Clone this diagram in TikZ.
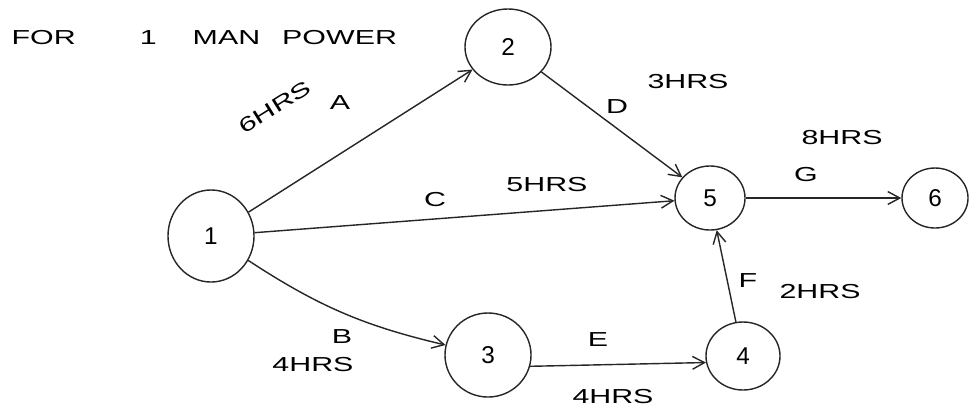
\documentclass[tikz,border=0pt]{standalone}
\usepackage{fontspec}
\setmainfont{Liberation Sans}
\newfontfamily\handfont[FakeStretch=1.5]{Liberation Sans}
\usepackage{tikz}
\usetikzlibrary{shapes.geometric, arrows.meta, positioning}

\begin{document}
\begin{tikzpicture}[x=0.025cm, y=-0.025cm]
    % Define styles
    \tikzstyle{event} = [ellipse, draw=black!85, line width=1pt, inner sep=0pt, font=\LARGE]
    \tikzstyle{activity} = [font=\handfont\Large, inner sep=1pt]
    \tikzstyle{arrow} = [-{Straight Barb[length=3mm, width=3.2mm]}, line width=1pt, draw=black!85]

    \useasboundingbox (0,0) rectangle (970,410);

    % Title
    \node[activity, anchor=west] (title) at (10,38) {FOR\hspace{1.6cm}1\hspace{0.9cm}MAN\hspace{0.55cm}POWER};

    % Events
    \node[event, minimum width=2.15cm, minimum height=2.3cm] (n1) at (211,236) {1};
    \node[event, minimum width=2.15cm, minimum height=1.9cm] (n2) at (508,47) {2};
    \node[event, minimum width=2.15cm, minimum height=2.1cm] (n3) at (488,355) {3};
    \node[event, minimum width=1.85cm, minimum height=1.7cm] (n4) at (743,356) {4};
    \node[event, minimum width=1.75cm, minimum height=1.6cm] (n5) at (710,198) {5};
    \node[event, minimum width=1.65cm, minimum height=1.5cm] (n6) at (935,198) {6};

    % Activities
    \draw[arrow] (n1) -- (n2);
    \draw[arrow] (n1) to[bend right=10] (n3);
    \draw[arrow] (n1) -- (n5);
    \draw[arrow] (n2) -- (n5);
    \draw[arrow] (n3.345) -- (n4.190);
    \draw[arrow] (n4) -- (n5);
    \draw[arrow] (n5) -- (n6);

    % Labels
    \node[activity, rotate=32] (tA) at (275,107) {6HRS};
    \node[activity] (lA) at (340,103) {A};
    \node[activity] (lB) at (342,337) {B};
    \node[activity] (tB) at (313,365) {4HRS};
    \node[activity] (lC) at (435,200) {C};
    \node[activity] (tC) at (547,185) {5HRS};
    \node[activity] (lD) at (617,107) {D};
    \node[activity] (tD) at (688,82) {3HRS};
    \node[activity] (lE) at (598,340) {E};
    \node[activity] (tE) at (613,397) {4HRS};
    \node[activity] (lF) at (748,281) {F};
    \node[activity] (tF) at (820,292) {2HRS};
    \node[activity] (lG) at (806,175) {G};
    \node[activity] (tG) at (842,138) {8HRS};

\end{tikzpicture}
\end{document}
